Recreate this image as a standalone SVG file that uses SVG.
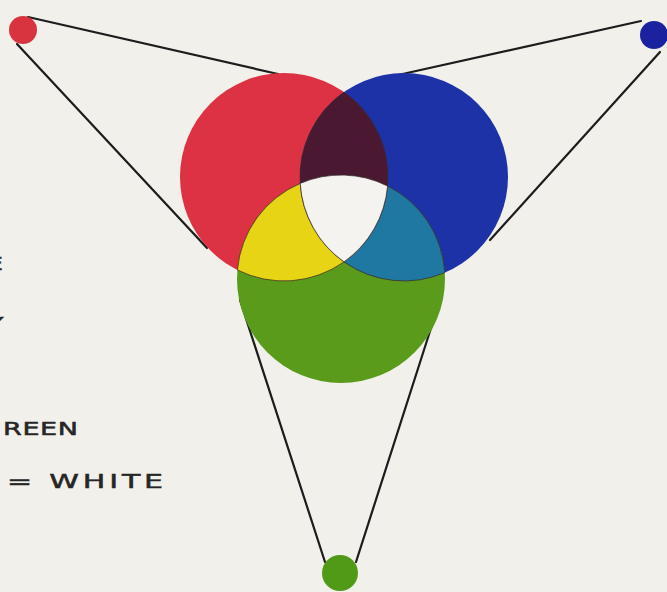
<svg xmlns="http://www.w3.org/2000/svg" width="667" height="592" viewBox="0 0 667 592">
<style>
.ln{stroke:#1c1c1c;stroke-width:2.2;fill:none;stroke-linecap:round}
.edge{stroke:#3a2a2a;stroke-width:1;stroke-opacity:.75}
.lbl{font-family:"DejaVu Sans","Liberation Sans",sans-serif;fill:#262626;stroke:#262626;stroke-width:.5}
</style>
<rect width="667" height="592" fill="#f2f0eb"/>
<g id="connectors">
<line class="ln" x1="28" y1="17" x2="278" y2="74"/>
<line class="ln" x1="17" y1="44" x2="207" y2="248"/>
<line class="ln" x1="641" y1="21" x2="398" y2="75"/>
<line class="ln" x1="660" y1="52" x2="490" y2="240"/>
<line class="ln" x1="325" y1="562" x2="240" y2="300"/>
<line class="ln" x1="356" y1="562" x2="440" y2="300"/>
</g>
<g id="dot-red"><circle cx="23" cy="30" r="14" fill="#d8343f"/></g>
<g id="dot-blue"><circle cx="654" cy="35" r="14" fill="#1b22a0"/></g>
<g id="dot-green"><circle cx="340" cy="573" r="18" fill="#509a17"/></g>
<g id="circle-red"><circle cx="284" cy="177" r="104" fill="#dc3244"/></g>
<g id="circle-blue"><circle cx="404" cy="177" r="104" fill="#1c32a6"/></g>
<g id="circle-green"><circle cx="341" cy="279" r="104" fill="#5a9b1c"/></g>
<g id="overlap-red-blue"><path class="edge" fill="#4b1832" d="M344,92.1 A104,104 0 0 0 300.2,183.4 A104,104 0 0 1 387.6,186 A104,104 0 0 0 344,92.1 Z"/></g>
<g id="overlap-red-green"><path class="edge" fill="#e7d414" d="M237.4,270 A104,104 0 0 1 300.2,183.4 A104,104 0 0 0 344,261.9 A104,104 0 0 1 237.4,270 Z"/></g>
<g id="overlap-blue-green"><path class="edge" fill="#1f78a2" d="M387.6,186 A104,104 0 0 1 444.8,272.6 A104,104 0 0 1 344,261.9 A104,104 0 0 0 387.6,186 Z"/></g>
<g id="overlap-all"><path class="edge" fill="#f4f3ef" d="M300.2,183.4 A104,104 0 0 1 387.6,186 A104,104 0 0 1 344,261.9 A104,104 0 0 1 300.2,183.4 Z"/></g>
<g id="labels">
<text class="lbl" transform="translate(-14,270) scale(1.5,1)" font-size="18">E</text>
<text class="lbl" transform="translate(-13,330) scale(1.5,1)" font-size="18">Y</text>
<text class="lbl" transform="translate(3,435) scale(1.5,1)" font-size="18" textLength="50" lengthAdjust="spacing">REEN</text>
<text class="lbl" transform="translate(7,488) scale(1.5,1)" font-size="20" textLength="104" lengthAdjust="spacing">= WHITE</text>
</g>
</svg>
